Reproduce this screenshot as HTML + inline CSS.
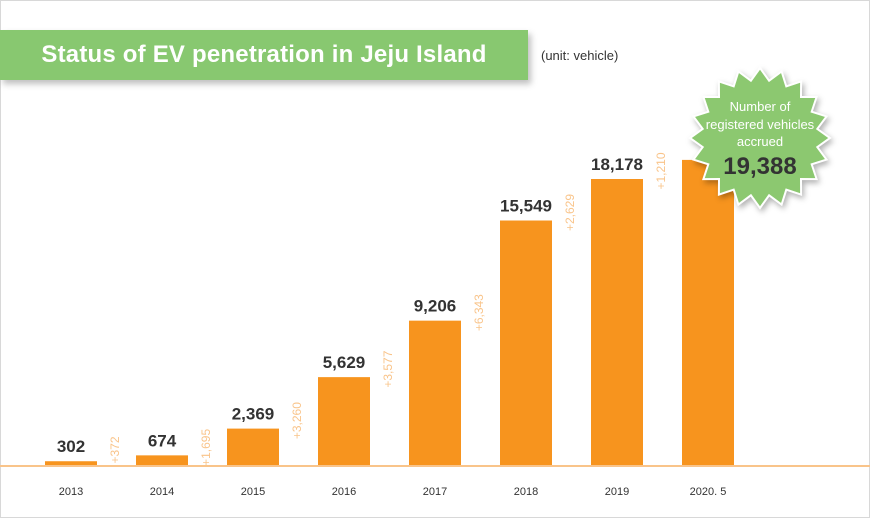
<!DOCTYPE html>
<html><head><meta charset="utf-8"><style>
html,body{margin:0;padding:0;background:#fff;}
body{width:870px;height:518px;position:relative;overflow:hidden;font-family:"Liberation Sans",sans-serif;}
#frame{position:absolute;left:0;top:0;width:868px;height:516px;border:1px solid #d8d8d8;}
#title{position:absolute;left:0;top:30px;width:528px;height:50px;background:#88c870;box-shadow:3px 4px 6px rgba(0,0,0,0.25);color:#fff;font-weight:bold;font-size:24px;line-height:50px;text-align:center;letter-spacing:0.2px;}
#unit{position:absolute;left:541px;top:48px;font-size:13px;color:#333;}
</style></head><body>
<div id="frame"></div>
<div id="title">Status of EV penetration in Jeju Island</div>
<div id="unit">(unit: vehicle)</div>
<svg id="chart" width="870" height="518" style="position:absolute;left:0;top:0"></svg>
<script>
const categories = ["2013","2014","2015","2016","2017","2018","2019","2020. 5"];
const values = [302,674,2369,5629,9206,15549,18178,19388];
const increments = ["+372","+1,695","+3,260","+3,577","+6,343","+2,629","+1,210"];
const valueLabels = ["302","674","2,369","5,629","9,206","15,549","18,178","19,388"];

const NS="http://www.w3.org/2000/svg";
const svg=document.getElementById('chart');
const baseY=466, scale=287/18178, x0=45, pitch=91, bw=52;
const xPos=i=>x0+i*pitch;
const yPos=v=>baseY-v*scale;
function mk(tag,attrs){const e=document.createElementNS(NS,tag);for(const k in attrs)e.setAttribute(k,attrs[k]);svg.appendChild(e);return e;}

values.forEach((v,i)=>{
  const r=mk('rect',{x:xPos(i),y:yPos(v),width:bw,height:baseY-yPos(v),fill:'#f7941e'});
  
  
  const c=mk('text',{x:xPos(i)+bw/2,y:495,'text-anchor':'middle','font-size':'11',fill:'#333'});
  c.textContent=categories[i];
  
  
  if(i<values.length-1){
    const t=mk('text',{x:xPos(i)+bw/2,y:yPos(v)-9,'text-anchor':'middle','font-size':'17','font-weight':'bold',fill:'#333'});
    t.textContent=valueLabels[i];
    
    
  }
});
increments.forEach((s,i)=>{
  const cx=xPos(i)+bw+19;
  const cy=Math.min(450,yPos(values[i])-8);
  const t=mk('text',{x:cx,y:cy,'text-anchor':'middle','font-size':'12',fill:'#f9c48a','dominant-baseline':'middle',transform:`rotate(-90 ${cx} ${cy})`});
  t.textContent=s;
  
  
});
const ax=mk('line',{x1:0,x2:870,y1:baseY,y2:baseY,stroke:'#f9c48a','stroke-width':2});



// starburst
const cx=760,cy=138,n=20,ro=70,ri=58;let pts=[];
for(let k=0;k<n*2;k++){const a=Math.PI*k/n-Math.PI/2;const r=k%2?ri:ro;pts.push((cx+r*Math.cos(a)).toFixed(1)+','+(cy+r*Math.sin(a)).toFixed(1));}
const st=mk('polygon',{points:pts.join(' '),fill:'#8cc870',stroke:'#fff','stroke-width':2,style:'filter:drop-shadow(2px 3px 3px rgba(0,0,0,0.3))'});


[["Number of",111],["registered vehicles",129],["accrued",146]].forEach(([s,y])=>{
  const t=mk('text',{x:cx,y:y,'text-anchor':'middle','font-size':'13',fill:'#fff'});
  t.textContent=s;
  
  
});
const tv=mk('text',{x:cx,y:174,'text-anchor':'middle','font-size':'24','font-weight':'bold',fill:'#333'});
tv.textContent=valueLabels[valueLabels.length-1];


</script>
</body></html>
